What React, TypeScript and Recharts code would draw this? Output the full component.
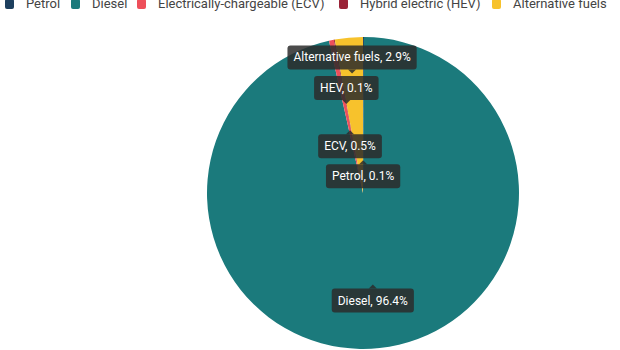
import React from 'react';
import { PieChart, Pie, Cell } from 'recharts';

const categories = ['Petrol', 'Diesel', 'Electrically-chargeable (ECV)', 'Hybrid electric (HEV)', 'Alternative fuels'];
const shortNames = ['Petrol', 'Diesel', 'ECV', 'HEV', 'Alternative fuels'];
const shares = [0.1, 96.4, 0.5, 0.1, 2.9];
const colors = ['#1d3f5e', '#1b7a7c', '#ee4f5a', '#9a2337', '#f7c22c'];

// label placement (fraction of radius, box above or below the anchor)
const labelRadius = [0.21, 0.59, 0.41, 0.58, 0.77];
const labelSide = ['below', 'below', 'below', 'above', 'above'];
// legend item x positions (text start)
const legendX = [26, 92, 158, 360, 513];

const data = categories.map((name, i) => ({ name, short: shortNames[i], value: shares[i] }));

const RAD = Math.PI / 180;
let ctx: CanvasRenderingContext2D | null = null;
const measure = (txt: string) => {
  if (!ctx) ctx = document.createElement('canvas').getContext('2d');
  if (!ctx) return txt.length * 5;
  ctx.font = '12px Roboto';
  return ctx.measureText(txt).width;
};

const renderLabel = (props: any) => {
  const { cx, cy, midAngle, outerRadius, index } = props;
  const r = outerRadius * labelRadius[index];
  const x = cx + r * Math.cos(-midAngle * RAD);
  const y = cy + r * Math.sin(-midAngle * RAD);
  const txt = `${shortNames[index]}, ${shares[index]}%`;
  const w = measure(txt) + 12;
  const h = 24;
  const above = labelSide[index] === 'above';
  const top = above ? y - 4 - h : y + 4;
  const arrow = above
    ? `M${x - 4},${y - 4} L${x},${y} L${x + 4},${y - 4} Z`
    : `M${x - 4},${y + 4} L${x},${y} L${x + 4},${y + 4} Z`;
  return (
    <g key={`lab-${index}`}>
      <path d={arrow} fill="#2b2b2b" fillOpacity={0.85} />
      <rect x={x - w / 2} y={top} width={w} height={h} rx={3} fill="#2b2b2b" fillOpacity={0.85} />
      <text x={x} y={top + h / 2 + 4} textAnchor="middle" fill="#fff" fontSize={12} fontFamily="Roboto">
        {txt}
      </text>
    </g>
  );
};

const App = () => {
  return (
    <div style={{ position: 'absolute', left: 0, top: 0, width: 620, height: 350, background: '#fff', overflow: 'hidden' }}>
      {categories.map((c, i) => (
        <div
          key={c}
          style={{
            position: 'absolute',
            top: -4,
            left: legendX[i] - 21,
            display: 'flex',
            alignItems: 'center',
            whiteSpace: 'nowrap',
            fontFamily: 'Roboto',
            fontSize: 13,
            color: '#444',
            lineHeight: '16px',
          }}
        >
          <span style={{ width: 9, height: 10, background: colors[i], borderRadius: 2, marginRight: 12, display: 'inline-block' }} />
          <span>{c}</span>
        </div>
      ))}
      <PieChart width={620} height={350}>
        <Pie
          data={data}
          dataKey="value"
          nameKey="name"
          cx={358}
          cy={188}
          outerRadius={156}
          startAngle={90}
          endAngle={-270}
          stroke="none"
          label={renderLabel}
          labelLine={false}
          isAnimationActive={false}
        >
          {data.map((d, i) => (
            <Cell key={d.name} fill={colors[i]} />
          ))}
        </Pie>
      </PieChart>
    </div>
  );
};

export default App;
